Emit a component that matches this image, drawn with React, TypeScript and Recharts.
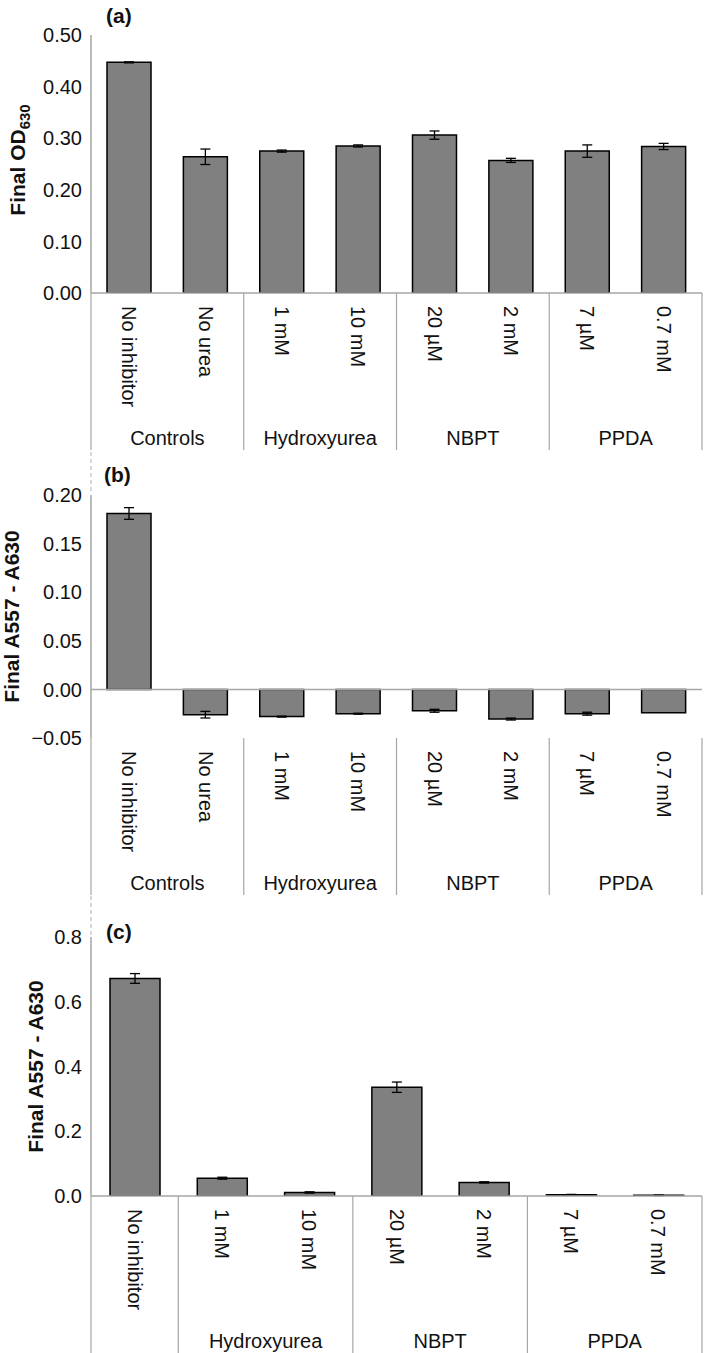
import React from "react";
import { BarChart, Bar, XAxis, YAxis, ErrorBar, ReferenceLine } from "recharts";

// ---------- data ----------
const catsAB = ["No inhibitor", "No urea", "1 mM", "10 mM", "20 µM", "2 mM", "7 µM", "0.7 mM"];
const groupsAB = ["Controls", "Controls", "Hydroxyurea", "Hydroxyurea", "NBPT", "NBPT", "PPDA", "PPDA"];

const valsA = [0.447, 0.264, 0.275, 0.285, 0.306, 0.257, 0.275, 0.284];
const errA = [0.001, 0.015, 0.002, 0.002, 0.008, 0.004, 0.012, 0.006];
const ticksA = [0, 0.1, 0.2, 0.3, 0.4, 0.5];

const valsB = [0.181, -0.026, -0.028, -0.025, -0.022, -0.0305, -0.025, -0.024];
const errB = [0.006, 0.0034, 0.0005, 0.0005, 0.0015, 0.001, 0.0015, 0];
const ticksB = [-0.05, 0, 0.05, 0.1, 0.15, 0.2];

const catsC = ["No inhibitor", "1 mM", "10 mM", "20 µM", "2 mM", "7 µM", "0.7 mM"];
const groupsC = ["", "Hydroxyurea", "Hydroxyurea", "NBPT", "NBPT", "PPDA", "PPDA"];
const valsC = [0.672, 0.055, 0.011, 0.336, 0.042, 0.004, 0.002];
const errC = [0.015, 0.003, 0.002, 0.016, 0.002, 0.001, 0.001];
const ticksC = [0, 0.2, 0.4, 0.6, 0.8];

const build = (cats: string[], vals: number[], errs: number[]) =>
  cats.map((name, i) => ({ name, v: vals[i], e: errs[i] }));

const dataA = build(catsAB, valsA, errA);
const dataB = build(catsAB, valsB, errB);
const dataC = build(catsC, valsC, errC);

// ---------- style ----------
const FONT = "'Liberation Sans', Arial, Helvetica, sans-serif";
const TEXT = "#111";
const AXIS = "#a6a6a6";
const W = 709;
const YW = 91;
const RIGHT = 7;
const PLOT_W = W - YW - RIGHT;
const LABEL_GAP = 14;
const SEP_LEN = 157;
const GROUP_Y = 145;

function makeTick(cats: string[], groups: string[], gap: number) {
  return (props: any) => {
    const { x, y, payload } = props;
    const n = cats.length;
    const bw = PLOT_W / n;
    let i = typeof props.index === "number" ? props.index : cats.indexOf(payload.value);
    if (cats[i] !== payload.value) i = cats.indexOf(payload.value);
    const axisY = y - gap;
    const left = x - bw / 2;
    const parts: any[] = [];
    parts.push(
      <text
        key="t"
        x={x}
        y={y}
        dy="0.35em"
        transform={`rotate(90, ${x}, ${y})`}
        textAnchor="start"
        fontFamily={FONT}
        fontSize={20}
        fill={TEXT}
      >
        {payload.value}
      </text>
    );
    const start = i === 0 || groups[i] !== groups[i - 1];
    if (start) {
      let cnt = 1;
      while (i + cnt < n && groups[i + cnt] === groups[i]) cnt++;
      parts.push(
        <line key="s" x1={left} x2={left} y1={axisY} y2={axisY + SEP_LEN} stroke={AXIS} strokeWidth={1.2} />
      );
      if (groups[i]) {
        parts.push(
          <text
            key="g"
            x={left + (cnt * bw) / 2}
            y={axisY + GROUP_Y}
            dy="0.35em"
            textAnchor="middle"
            fontFamily={FONT}
            fontSize={20}
            fill={TEXT}
          >
            {groups[i]}
          </text>
        );
      }
    }
    if (i === n - 1) {
      const r = x + bw / 2;
      parts.push(<line key="e" x1={r} x2={r} y1={axisY} y2={axisY + SEP_LEN} stroke={AXIS} strokeWidth={1.2} />);
    }
    return <g>{parts}</g>;
  };
}

function yTitle(main: string, sub: string | null, bx: number, shift: number) {
  return (props: any) => {
    const vb = props.viewBox || {};
    const cy = (vb.y ?? 0) + (vb.height ?? 0) / 2 + shift;
    return (
      <text
        x={bx}
        y={cy}
        transform={`rotate(-90, ${bx}, ${cy})`}
        textAnchor="middle"
        fontFamily={FONT}
        fontWeight="bold"
        fontSize={21}
        fill={TEXT}
      >
        {main}
        {sub ? (
          <tspan fontSize={15} dy={5}>
            {sub}
          </tspan>
        ) : null}
      </text>
    );
  };
}

const tickStyle = { fontFamily: FONT, fontSize: 20, fill: TEXT };

function Panel(props: {
  data: any[];
  cats: string[];
  groups: string[];
  ticks: number[];
  domain: [number, number];
  fmt: (v: number) => string;
  height: number;
  top: number;
  xh: number;
  barSize: number;
  negative?: boolean;
  title: any;
}) {
  const { data, cats, groups, ticks, domain, fmt, height, top, xh, barSize, negative, title } = props;
  return (
    <BarChart
      width={W}
      height={height}
      data={data}
      margin={{ top, right: RIGHT, bottom: 0, left: 0 }}
      barCategoryGap="20%"
    >
      <XAxis
        dataKey="name"
        type="category"
        interval={0}
        height={xh}
        tickLine={false}
        tickSize={0}
        tickMargin={LABEL_GAP - 1}
        axisLine={negative ? false : { stroke: AXIS, strokeWidth: 1.5 }}
        tick={makeTick(cats, groups, LABEL_GAP - 1)}
      />
      <YAxis
        type="number"
        width={YW}
        domain={domain}
        ticks={ticks}
        interval={0}
        allowDataOverflow
        tickLine={false}
        tickSize={0}
        tickMargin={9}
        axisLine={{ stroke: AXIS, strokeWidth: 1.5 }}
        tick={tickStyle}
        tickFormatter={fmt}
        label={title}
      />
      {negative ? <ReferenceLine y={0} stroke={AXIS} strokeWidth={1.5} /> : null}
      <Bar dataKey="v" fill="#808080" stroke="#000" strokeWidth={1.5} barSize={barSize} isAnimationActive={false}>
        <ErrorBar dataKey="e" width={5} stroke="#000" strokeWidth={1.3} direction="y" isAnimationActive={false} />
      </Bar>
    </BarChart>
  );
}

const fmt2 = (v: number) => {
  const s = Math.abs(v) < 1e-9 ? "0.00" : v.toFixed(2);
  return s.replace("-", "\u2212");
};
const fmt1 = (v: number) => (Math.abs(v) < 1e-9 ? "0.0" : v.toFixed(1));

export default function App() {
  return (
    <div
      style={{
        position: "absolute",
        left: 0,
        top: 0,
        width: W,
        height: 1353,
        background: "#fff",
        overflow: "hidden",
        fontFamily: FONT,
      }}
    >
      <div style={{ position: "absolute", left: 0, top: 0 }}>
        <Panel
          data={dataA}
          cats={catsAB}
          groups={groupsAB}
          ticks={ticksA}
          domain={[0, 0.5]}
          fmt={fmt2}
          height={455}
          top={35}
          xh={162}
          barSize={44}
          title={yTitle("Final OD", "630", 25, -4)}
        />
      </div>
      <div style={{ position: "absolute", left: 0, top: 460 }}>
        <Panel
          data={dataB}
          cats={catsAB}
          groups={groupsAB}
          ticks={ticksB}
          domain={[-0.05, 0.2]}
          fmt={fmt2}
          height={438}
          top={35}
          xh={160}
          barSize={44}
          negative
          title={yTitle("Final A557 - A630", null, 19, 0)}
        />
      </div>
      <div style={{ position: "absolute", left: 0, top: 900 }}>
        <Panel
          data={dataC}
          cats={catsC}
          groups={groupsC}
          ticks={ticksC}
          domain={[0, 0.8]}
          fmt={fmt1}
          height={453}
          top={37}
          xh={157}
          barSize={50}
          title={yTitle("Final A557 - A630", null, 43, 0)}
        />
      </div>
      <svg
        width={W}
        height={1353}
        style={{ position: "absolute", left: 0, top: 0, pointerEvents: "none" }}
      >
        <line x1={91} x2={91} y1={452} y2={494} stroke="#bbb" strokeWidth={1.2} strokeDasharray="4 3" />
        <line x1={91} x2={91} y1={896} y2={936} stroke="#bbb" strokeWidth={1.2} strokeDasharray="4 3" />
        <text x={106} y={23} fontFamily={FONT} fontWeight="bold" fontSize={21} fill={TEXT}>
          (a)
        </text>
        <text x={104} y={482} fontFamily={FONT} fontWeight="bold" fontSize={21} fill={TEXT}>
          (b)
        </text>
        <text x={106} y={939} fontFamily={FONT} fontWeight="bold" fontSize={21} fill={TEXT}>
          (c)
        </text>
      </svg>
    </div>
  );
}
